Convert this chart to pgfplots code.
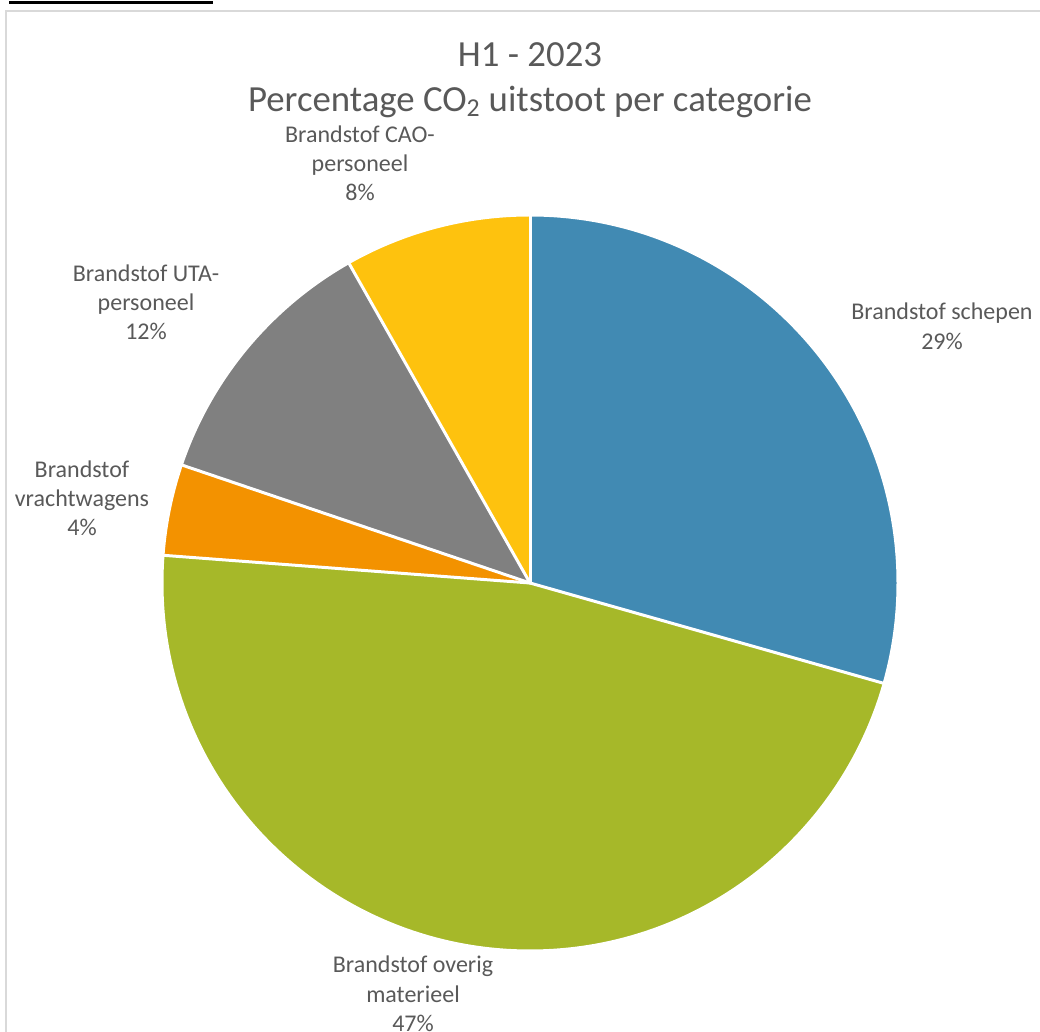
\documentclass[border=0pt]{standalone}
\usepackage{pgfplots}
\pgfplotsset{compat=1.18}
\usepackage{fontspec}
\setmainfont{Carlito}
\definecolor{cSchepen}{RGB}{65,138,179}
\definecolor{cOverig}{RGB}{166,184,41}
\definecolor{cVracht}{RGB}{243,146,0}
\definecolor{cUTA}{RGB}{128,128,128}
\definecolor{cCAO}{RGB}{254,194,14}
\definecolor{txt}{RGB}{89,89,89}
\definecolor{frame}{RGB}{217,217,217}
\begin{document}
\begin{tikzpicture}
\begin{axis}[width=780pt,height=774pt,scale only axis,
  xmin=0,xmax=1040,ymin=0,ymax=1032,hide axis,clip=false]
\pgfplotsextra{
  % frame and top-left underline
  \draw[frame,line width=1.8pt] (axis cs:6,0) -- (axis cs:6,1021) -- (axis cs:1040,1021);
  \draw[black,line width=2.2pt] (axis cs:9,1029.3) -- (axis cs:213,1029.3);
  % pie slices (percentages), clockwise from 12 o'clock
  \gdef\startangle{90}
  \foreach \v/\c in {29.4/cSchepen, 46.8/cOverig, 4.0/cVracht, 11.6/cUTA, 8.2/cCAO} {
    \pgfmathsetmacro\endangle{\startangle - 3.6*\v}
    \edef\tmp{\noexpand\fill[\c] (axis cs:530,449) -- ++(\startangle:276pt)
      arc[start angle=\startangle, end angle=\endangle, radius=276pt] -- cycle;}
    \tmp
    \global\let\startangle\endangle
  }
  \gdef\startangle{90}
  \foreach \v in {29.4, 46.8, 4.0, 11.6, 8.2} {
    \pgfmathsetmacro\endangle{\startangle - 3.6*\v}
    \edef\tmp{\noexpand\draw[white,line width=2.25pt,line cap=round] (axis cs:530,449) -- ++(\startangle:276pt);}
    \tmp
    \global\let\startangle\endangle
  }
  \draw[white,line width=2.25pt] (axis cs:530,449) circle[radius=276pt];
  % titles
  \begingroup\color{txt}
  \node[anchor=base,font=\fontsize{27.6}{33}\selectfont] at (axis cs:530,965.3) {H1 - 2023};
  \node[anchor=base,font=\fontsize{27.6}{33}\selectfont] at (axis cs:530,920.3) {Percentage CO\textsubscript{2} uitstoot per categorie};
  % labels
  \tikzset{lbl/.style={anchor=base,font=\fontsize{18}{21.6}\selectfont}}
  \node[lbl] at (axis cs:360,889) {Brandstof CAO-};
  \node[lbl] at (axis cs:360,860) {personeel};
  \node[lbl] at (axis cs:360,831) {8\%};
  \node[lbl] at (axis cs:942,712) {Brandstof schepen};
  \node[lbl] at (axis cs:942,682) {29\%};
  \node[lbl] at (axis cs:146,750.3) {Brandstof UTA-};
  \node[lbl] at (axis cs:146,721.3) {personeel};
  \node[lbl] at (axis cs:146,692.3) {12\%};
  \node[lbl] at (axis cs:82,554) {Brandstof};
  \node[lbl] at (axis cs:82,525) {vrachtwagens};
  \node[lbl] at (axis cs:82,496) {4\%};
  \node[lbl] at (axis cs:413,59) {Brandstof overig};
  \node[lbl] at (axis cs:413,29.5) {materieel};
  \node[lbl] at (axis cs:413,0) {47\%};
  \endgroup
}
\end{axis}
\pgfresetboundingbox
\useasboundingbox (current axis.south west) rectangle (current axis.north east);
\end{tikzpicture}
\end{document}
